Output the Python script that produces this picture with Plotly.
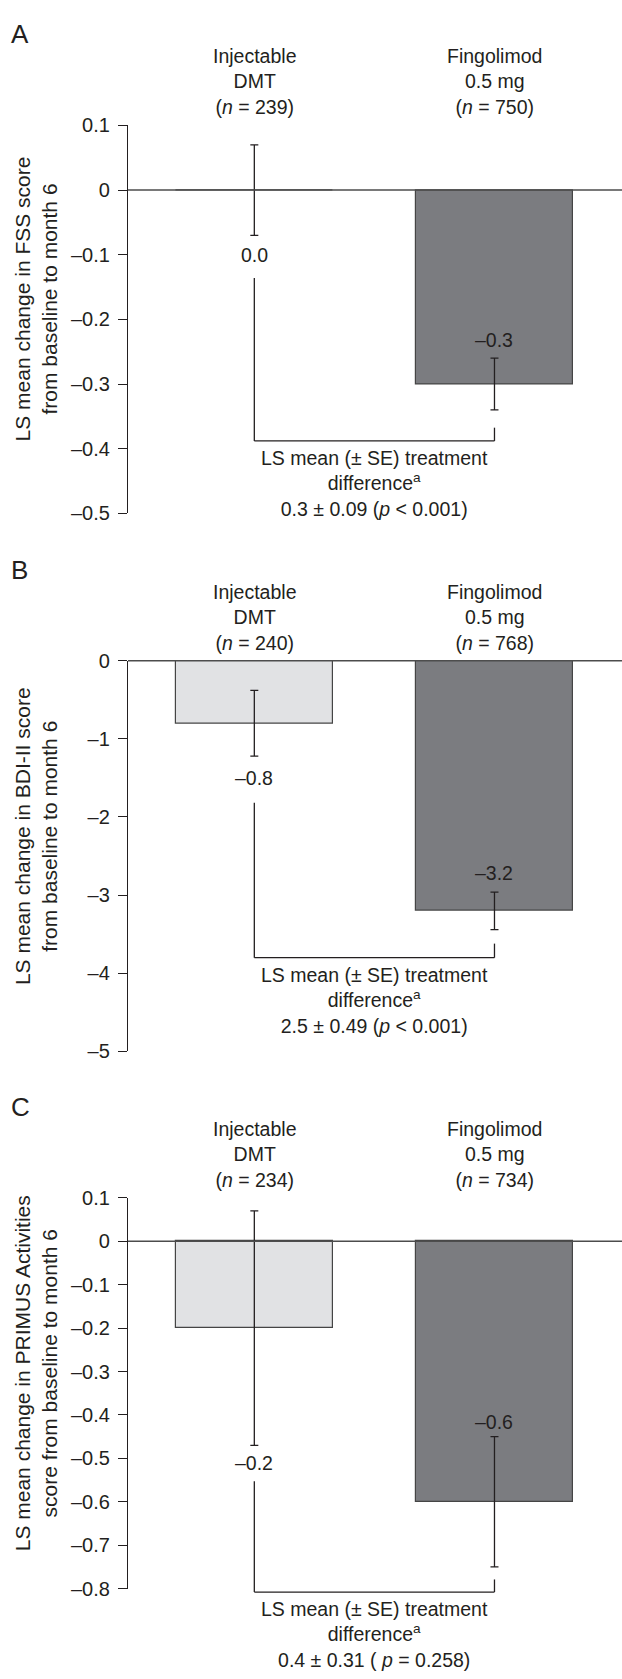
import plotly.graph_objects as go

# ---------------- data ----------------
categories = ["Injectable DMT", "Fingolimod 0.5 mg"]
header_labels = ["Injectable<br>DMT", "Fingolimod<br>0.5 mg"]
panel_letters = ["A", "B", "C"]

n_fss = [239, 750]
n_bdi = [240, 768]
n_primus = [234, 734]

fss_mean = [0.0, -0.3]
fss_se = [0.07, 0.04]
bdi_mean = [-0.8, -3.2]
bdi_se = [0.42, 0.24]
primus_mean = [-0.2, -0.6]
primus_se = [0.27, 0.15]

fss_diff = "0.3 ± 0.09 (<i>p</i> < 0.001)"
bdi_diff = "2.5 ± 0.49 (<i>p</i> < 0.001)"
primus_diff = "0.4 ± 0.31 ( <i>p</i> = 0.258)"

fss_ticks = [0.1, 0, -0.1, -0.2, -0.3, -0.4, -0.5]
bdi_ticks = [0, -1, -2, -3, -4, -5]
primus_ticks = [0.1, 0, -0.1, -0.2, -0.3, -0.4, -0.5, -0.6, -0.7, -0.8]

fss_title = "LS mean change in FSS score<br>from baseline to month 6"
bdi_title = "LS mean change in BDI-II score<br>from baseline to month 6"
primus_title = "LS mean change in PRIMUS Activities<br>score from baseline to month 6"

# bracket geometry (data units): left top, bottom, right top
fss_bracket = [-0.136, -0.388, -0.3675]
bdi_bracket = [-1.818, -3.80, -3.62]
primus_bracket = [-0.553, -0.808, -0.779]

# ---------------- style ----------------
W, H = 622, 1679
FONT = "Liberation Sans, Arial, Helvetica, sans-serif"
TXT = "#231f20"
bar_colors = ["#e1e2e4", "#7b7c80"]
panel_px = [(116, 509), (658.3, 1054.3), (1202.7, 1598.5)]  # top, bottom in px
x_left_px = 128
x_range = [-0.526, 1.531]
bar_width = 0.654
label_shift = [(-20, 18), (-22, 19), (-18, 15)]  # (below DMT err, above fingolimod err)

panels = [
    dict(mean=fss_mean, se=fss_se, n=n_fss, diff=fss_diff, ticks=fss_ticks,
         title=fss_title, bracket=fss_bracket, fmt=1),
    dict(mean=bdi_mean, se=bdi_se, n=n_bdi, diff=bdi_diff, ticks=bdi_ticks,
         title=bdi_title, bracket=bdi_bracket, fmt=0),
    dict(mean=primus_mean, se=primus_se, n=n_primus, diff=primus_diff,
         ticks=primus_ticks, title=primus_title, bracket=primus_bracket, fmt=1),
]


def tick_text(v, dec):
    if abs(v) < 1e-12:
        return "0"
    s = f"{abs(v):.{dec}f}"
    return ("–" + s) if v < 0 else s


def val_text(v):
    s = f"{abs(v):.1f}"
    return ("–" + s) if v < -1e-12 else s


def dom_x(v):
    return (v - x_range[0]) / (x_range[1] - x_range[0])


fig = go.Figure()
annotations = []
shapes = []
xs = list(range(len(categories)))

for i, p in enumerate(panels):
    k = "" if i == 0 else str(i + 1)
    xa, ya = "x" + k, "y" + k
    top_px, bot_px = panel_px[i]
    dom = [1 - bot_px / H, 1 - top_px / H]
    yr = [min(p["ticks"]), max(p["ticks"])]

    def dom_y(v, yr=yr):
        return (v - yr[0]) / (yr[1] - yr[0])

    fig.add_trace(go.Bar(
        x=xs, y=p["mean"], width=bar_width,
        marker=dict(color=bar_colors, line=dict(color="#454545", width=1.2)),
        error_y=dict(type="data", array=p["se"], visible=True, color=TXT,
                     thickness=1.3, width=4),
        xaxis=xa, yaxis=ya, showlegend=False, hovertext=categories,
        hoverinfo="text+y",
    ))

    fig.update_layout(**{
        ("xaxis" + k): dict(domain=[x_left_px / W, 1], range=x_range,
                            showticklabels=False, showgrid=False, zeroline=False,
                            showline=False, ticks="", anchor=ya, fixedrange=True),
        ("yaxis" + k): dict(domain=dom, range=yr,
                            anchor=xa, showgrid=False, zeroline=False,
                            showline=True, linecolor=TXT, linewidth=1.3,
                            ticks="outside", ticklen=9, tickwidth=1.3,
                            tickcolor=TXT, tickvals=p["ticks"],
                            ticktext=[tick_text(v, p["fmt"]) for v in p["ticks"]],
                            tickfont=dict(family=FONT, size=20, color=TXT),
                            ticklabelstandoff=4, fixedrange=True),
    })

    # zero line across the plot
    shapes.append(dict(type="line", xref=xa + " domain", x0=0, x1=1,
                       yref=ya + " domain", y0=dom_y(0), y1=dom_y(0),
                       line=dict(color="#4d4d4d", width=1.5)))

    # bracket (domain refs so it is not clipped by the axis range)
    lt, bt, rt = p["bracket"]
    for (x0, y0, x1, y1) in [(0, lt, 0, bt), (0, bt, 1, bt), (1, bt, 1, rt)]:
        shapes.append(dict(type="line", xref=xa + " domain", yref=ya + " domain",
                           x0=dom_x(x0), y0=dom_y(y0), x1=dom_x(x1), y1=dom_y(y1),
                           line=dict(color=TXT, width=1.3)))

    # value labels
    m, s = p["mean"], p["se"]
    annotations.append(dict(xref=xa, yref=ya, x=0, y=m[0] - s[0], yshift=label_shift[i][0],
                            text=val_text(m[0]), showarrow=False, yanchor="middle",
                            font=dict(family=FONT, size=19.5, color=TXT)))
    annotations.append(dict(xref=xa, yref=ya, x=1, y=m[1] + s[1], yshift=label_shift[i][1],
                            text=val_text(m[1]), showarrow=False, yanchor="middle",
                            font=dict(family=FONT, size=19.5, color=TXT)))

    # headers
    for j in xs:
        annotations.append(dict(xref=xa, yref=ya + " domain", x=j, y=1, yanchor="bottom",
                                yshift=5,
                                text=f"{header_labels[j]}<br>(<i>n</i> = {p['n'][j]})",
                                showarrow=False, align="center",
                                font=dict(family=FONT, size=19.5, color=TXT)))

    # treatment difference text
    annotations.append(dict(xref=xa + " domain", yref=ya + " domain",
                            x=dom_x(0.5), y=dom_y(bt), yanchor="top", yshift=-4,
                            text="LS mean (± SE) treatment<br>difference<sup>a</sup><br>" + p["diff"],
                            showarrow=False, align="center",
                            font=dict(family=FONT, size=19.5, color=TXT)))

    # y-axis title
    annotations.append(dict(xref="paper", yref=ya + " domain", x=36 / W, y=0.5,
                            xanchor="center", yanchor="middle", yshift=20,
                            textangle=-90, text=p["title"], showarrow=False,
                            font=dict(family=FONT, size=21, color=TXT)))

    # panel letter
    annotations.append(dict(xref="paper", yref=ya + " domain", x=9 / W, y=1,
                            xanchor="left", yanchor="middle", yshift=91,
                            text=panel_letters[i], showarrow=False,
                            font=dict(family=FONT, size=26, color=TXT)))

fig.update_layout(
    width=W, height=H, autosize=False,
    margin=dict(l=0, r=0, t=0, b=0),
    paper_bgcolor="white", plot_bgcolor="white",
    annotations=annotations, shapes=shapes, bargap=0,
)

fig.write_html("out.html", config={"displayModeBar": False})
